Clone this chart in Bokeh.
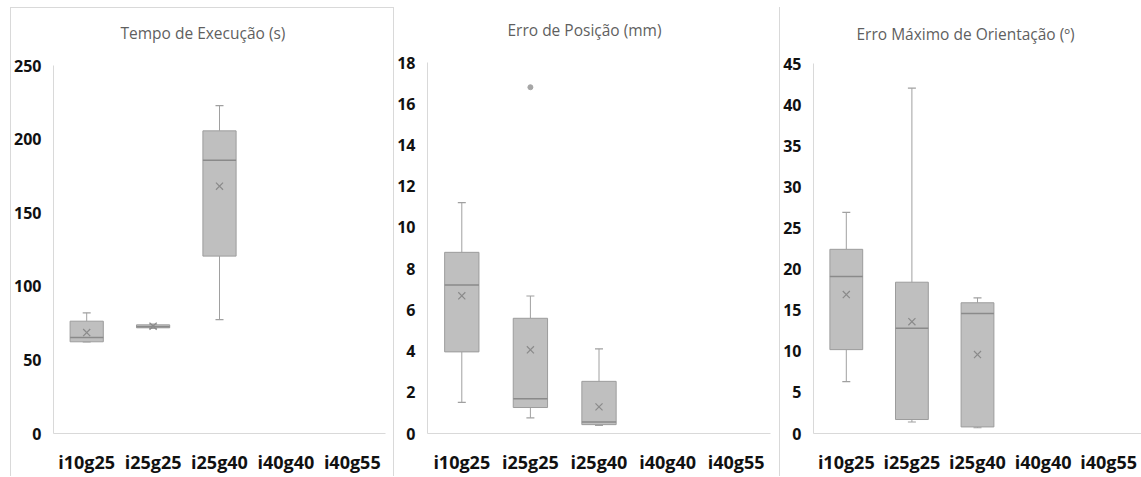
from bokeh.plotting import figure
from bokeh.models import FactorRange, Range1d, Title, Div, SingleIntervalTicker
from bokeh.layouts import row, column
from bokeh.embed import file_html
from bokeh.resources import INLINE

categories = ["i10g25", "i25g25", "i25g40", "i40g40", "i40g55"]
box_cats = ["i10g25", "i25g25", "i25g40"]

# Tempo de Execução (s)
tempo_low = [62.3, 71.4, 77.4]
tempo_q1 = [62.3, 71.8, 120.5]
tempo_med = [65.2, 72.6, 185.7]
tempo_q3 = [76.3, 73.8, 205.6]
tempo_high = [82.0, 74.3, 222.8]
tempo_mean = [68.6, 72.9, 168.0]

# Erro de Posição (mm)
pos_low = [1.51, 0.76, 0.39]
pos_q1 = [3.96, 1.26, 0.43]
pos_med = [7.2, 1.69, 0.56]
pos_q3 = [8.79, 5.59, 2.53]
pos_high = [11.2, 6.67, 4.11]
pos_mean = [6.68, 4.06, 1.29]
pos_out_cat = ["i25g25"]
pos_out_val = [16.8]

# Erro Máximo de Orientação (º)
ori_low = [6.3, 1.4, 0.7]
ori_q1 = [10.2, 1.7, 0.8]
ori_med = [19.1, 12.8, 14.6]
ori_q3 = [22.4, 18.4, 15.9]
ori_high = [26.9, 42.0, 16.5]
ori_mean = [16.9, 13.6, 9.6]

FONT = "Open Sans"
GRID = "#d9d9d9"
BOX_FILL = "#bfbfbf"
BOX_LINE = "#9c9c9c"
WHISK = "#a0a0a0"


def panel(title, low, q1, med, q3, high, mean, ymax, ystep, w, h,
          bl, br, bt, bb, t_off, gap, out_cat=None, out_val=None):
    p = figure(x_range=FactorRange(*categories), y_range=Range1d(0, ymax),
               width=w, height=h, output_backend="svg", toolbar_location=None,
               min_border_left=bl, min_border_right=br, min_border_top=bt,
               min_border_bottom=bb, outline_line_color=None, title=None)
    p.xgrid.grid_line_color = None
    p.ygrid.grid_line_color = None
    for ax in (p.xaxis[0], p.yaxis[0]):
        ax.axis_line_color = GRID
        ax.major_tick_line_color = None
        ax.minor_tick_line_color = None
        ax.major_tick_out = 0
        ax.major_tick_in = 0
        ax.major_label_text_font = FONT
        ax.major_label_text_font_style = "bold"
        ax.major_label_text_color = "#111111"
    p.yaxis.ticker = SingleIntervalTicker(interval=ystep)
    p.yaxis.major_label_text_font_size = "16px"
    p.yaxis.major_label_standoff = 8
    p.xaxis.major_label_text_font_size = "18px"
    p.xaxis.major_label_standoff = 16

    # whiskers
    p.segment(x0=box_cats, y0=q3, x1=box_cats, y1=high, line_color=WHISK, line_width=1)
    p.segment(x0=box_cats, y0=low, x1=box_cats, y1=q1, line_color=WHISK, line_width=1)
    p.scatter(x=box_cats, y=high, marker="dash", size=8, line_color=WHISK, line_width=1.2)
    p.scatter(x=box_cats, y=low, marker="dash", size=8, line_color=WHISK, line_width=1.2)
    # boxes
    p.vbar(x=box_cats, width=0.5, bottom=q1, top=q3, fill_color=BOX_FILL,
           line_color=BOX_LINE, line_width=1)
    # medians
    p.segment(x0=[(c, -0.25) for c in box_cats], x1=[(c, 0.25) for c in box_cats],
              y0=med, y1=med, line_color="#8a8a8a", line_width=1.5)
    # means
    p.scatter(x=box_cats, y=mean, marker="x", size=10, line_color="#8a8a8a", line_width=1.2)
    if out_cat:
        p.scatter(x=out_cat, y=out_val, marker="circle", size=5,
                  fill_color="#a6a6a6", line_color="#a6a6a6")
    # spacer between frame and title, then title
    p.add_layout(Title(text=" ", text_font_size=f"{gap}px", standoff=0), "above")
    p.add_layout(Title(text=title, align="left", offset=t_off, standoff=0,
                       text_font=FONT, text_font_style="normal",
                       text_font_size="15.5px", text_color="#5f5f5f"), "above")
    return p


p1 = panel("Tempo de Execução (s)", tempo_low, tempo_q1, tempo_med, tempo_q3,
           tempo_high, tempo_mean, 250, 50, 382, 468, 41, 8, 57, 43, 67, 18)
p2 = panel("Erro de Posição (mm)", pos_low, pos_q1, pos_med, pos_q3,
           pos_high, pos_mean, 18, 2, 385, 468, 33, 9, 54, 41, 80, 18,
           pos_out_cat, pos_out_val)
p3 = panel("Erro Máximo de Orientação (º)", ori_low, ori_q1, ori_med, ori_q3,
           ori_high, ori_mean, 45, 5, 361, 468, 32, 0, 55, 43, 43, 16)


def box(w, h, color=None):
    st = {"overflow": "hidden"}
    if color:
        st["background-color"] = color
    return Div(text="", width=w, height=h, margin=0, styles=st)


def vline():
    return column(box(1, 7), box(1, 469, GRID), spacing=0)


layout = row(
    box(10, 476),
    vline(),
    column(box(382, 7), box(382, 1, GRID), p1, spacing=0),
    vline(),
    column(box(385, 8), p2, spacing=0),
    vline(),
    column(box(361, 8), p3, spacing=0),
    spacing=0,
)

open("out.html", "w").write(file_html(layout, INLINE))
